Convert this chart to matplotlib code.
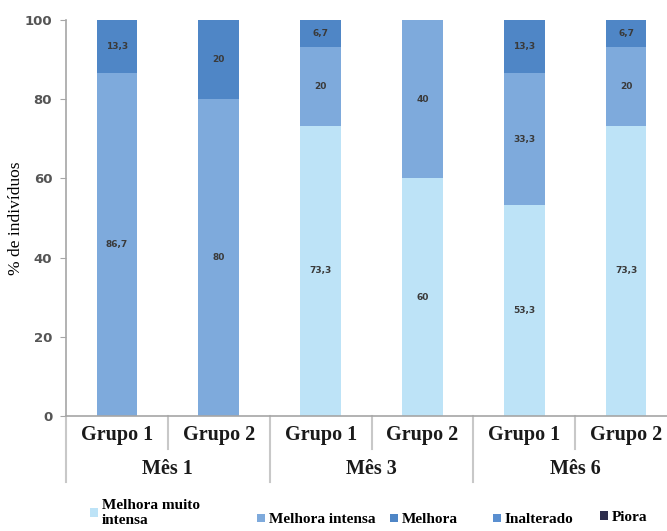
import numpy as np
import matplotlib.pyplot as plt
from matplotlib.patches import Patch
from matplotlib.transforms import blended_transform_factory

# Categories
grupos = ['Grupo 1', 'Grupo 2', 'Grupo 1', 'Grupo 2', 'Grupo 1', 'Grupo 2']
meses = ['Mês 1', 'Mês 3', 'Mês 6']

# % of individuals per response category (stacked bottom -> top)
series = ['Melhora muito intensa', 'Melhora intensa', 'Melhora', 'Inalterado', 'Piora']
muito_intensa = [0, 0, 73.3, 60, 53.3, 73.3]
intensa = [86.7, 80, 20, 40, 33.3, 20]
melhora = [13.3, 20, 6.7, 0, 13.3, 6.7]
inalterado = [0, 0, 0, 0, 0, 0]
piora = [0, 0, 0, 0, 0, 0]

colors = ['#bde3f7', '#7eaadc', '#4f86c6', '#5a8fd0', '#2e2e4e']
legend_names = ['Melhora muito\nintensa', 'Melhora intensa', 'Melhora', 'Inalterado', 'Piora']

serif = 'Liberation Serif'
gray = '#a6a6a6'

fig = plt.figure(figsize=(6.67, 5.31), dpi=100)
ax = fig.add_axes([0.099, 0.2166, 0.916, 0.7457])

x = np.arange(len(grupos))
bottom = np.zeros(len(grupos))
for vals, col in zip([muito_intensa, intensa, melhora, inalterado, piora], colors):
    vals = np.array(vals, dtype=float)
    ax.bar(x, vals, 0.4, bottom=bottom, color=col, edgecolor='none')
    for xi, b, v in zip(x, bottom, vals):
        if v > 0:
            txt = f'{v:g}'.replace('.', ',')
            ax.text(xi, b + v / 2, txt, ha='center', va='center',
                    fontsize=6.5, fontweight='bold', color='#3a3a3a')
    bottom += vals

ax.set_xlim(-0.5, 5.5)
ax.set_ylim(0, 100)
ax.set_yticks([0, 20, 40, 60, 80, 100])
ax.tick_params(axis='y', labelsize=9.5, labelcolor='#555555', color=gray,
               length=4, width=0.8, pad=6)
for lbl in ax.get_yticklabels():
    lbl.set_fontweight('bold')
ax.set_xticks([])
for side in ['top', 'right']:
    ax.spines[side].set_visible(False)
for side in ['left', 'bottom']:
    ax.spines[side].set_color(gray)
    ax.spines[side].set_linewidth(1.2)

ax.set_ylabel('% de indivíduos', fontsize=12.5, family=serif)
ax.yaxis.set_label_coords(-0.068, 0.5)

# Two-level category axis
tr = blended_transform_factory(ax.transData, ax.transAxes)
for xi, g in zip(x, grupos):
    ax.text(xi, -0.048, g, transform=tr, ha='center', va='center',
            fontsize=14.5, fontweight='bold', family=serif, color='#1a1a1a')
for i, m in enumerate(meses):
    ax.text(2 * i + 0.5, -0.134, m, transform=tr, ha='center', va='center',
            fontsize=14.5, fontweight='bold', family=serif, color='#1a1a1a')
for i in range(3):
    xs = 2 * i + 0.5
    ax.plot([xs, xs], [0, -0.083], transform=tr, color='#c8c8c8', lw=1.5,
            clip_on=False)
for xs in [-0.5, 1.5, 3.5]:
    ax.plot([xs, xs], [0, -0.167], transform=tr, color='#c8c8c8', lw=1.5,
            clip_on=False)

# Legend entries along the bottom
leg_x = [0.135, 0.386, 0.585, 0.739, 0.9]
leg_y = [0.034, 0.021, 0.021, 0.021, 0.025]
for name, col, lx, ly in zip(legend_names, colors, leg_x, leg_y):
    fig.legend(handles=[Patch(facecolor=col, edgecolor='none')], labels=[name],
               loc='center left', bbox_to_anchor=(lx, ly), frameon=False,
               handlelength=0.5, handleheight=0.5, handletextpad=0.25,
               borderpad=0, borderaxespad=0,
               prop={'family': serif, 'weight': 'bold', 'size': 11})

fig.savefig('out.png', dpi=100)
